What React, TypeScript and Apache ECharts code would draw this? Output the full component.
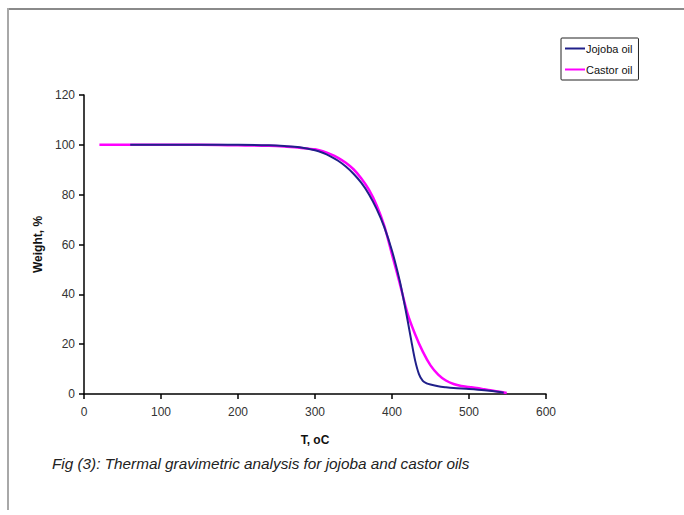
import React, { useEffect, useRef } from "react";
import * as echarts from "echarts";

const jojobaT = [60, 100, 150, 200, 240, 260, 280, 300, 310, 320, 330, 340, 350, 360, 370, 380, 390, 400, 410, 415, 420, 425, 430, 435, 440, 445, 450, 460, 470, 480, 500, 520, 540, 545];
const jojobaW = [100, 100, 100, 100, 99.8, 99.5, 99, 97.8, 96.8, 95.4, 93.6, 91.3, 88.4, 84.8, 80.2, 74.3, 67, 57.5, 45.5, 38, 30, 21.5, 13.5, 8, 5.3, 4.3, 3.8, 3.1, 2.7, 2.4, 2, 1.5, 0.8, 0.5];

const castorT = [20, 60, 100, 150, 200, 240, 260, 280, 300, 310, 320, 330, 340, 350, 360, 370, 380, 390, 400, 410, 420, 430, 440, 450, 460, 470, 480, 490, 500, 510, 520, 530, 540, 549];
const castorW = [100, 100, 100, 100, 99.8, 99.6, 99.3, 98.8, 98.2, 97.4, 96.3, 94.8, 92.8, 90.2, 86.6, 82, 75.8, 67.5, 56, 44.5, 32.5, 24, 17, 11.5, 7.8, 5.4, 4, 3.2, 2.8, 2.4, 1.9, 1.4, 0.9, 0.4];

const xTicks = [0, 100, 200, 300, 400, 500, 600];
const yTicks = [0, 20, 40, 60, 80, 100, 120];

const seriesNames = ["Jojoba oil", "Castor oil"];
const caption = "Fig (3): Thermal gravimetric analysis for jojoba and castor oils";

export default function App() {
  const ref = useRef<HTMLDivElement>(null);
  useEffect(() => {
    if (!ref.current) return;
    const chart = echarts.init(ref.current, null, { renderer: "svg" });
    const font = "'Liberation Sans', Arial, sans-serif";
    chart.setOption({
      animation: false,
      backgroundColor: "#ffffff",
      textStyle: { fontFamily: font },
      grid: { left: 84, right: 138, top: 95, bottom: 121, containLabel: false },
      legend: {
        orient: "vertical",
        left: 561,
        top: 38,
        data: [
          { name: seriesNames[0], icon: "rect" },
          { name: seriesNames[1], icon: "rect" },
        ],
        itemWidth: 20,
        itemHeight: 2,
        itemGap: 10,
        padding: [5, 6, 5, 4],
        borderColor: "#222",
        borderWidth: 1,
        borderRadius: 1,
        textStyle: { fontSize: 11, color: "#111", fontFamily: font, padding: [0, 0, 0, -4] },
      },
      xAxis: {
        type: "value",
        min: 0,
        max: 600,
        interval: 100,
        name: "T, oC",
        nameLocation: "middle",
        nameGap: 40,
        nameTextStyle: { fontWeight: "bold", fontSize: 12, color: "#111", fontFamily: font },
        axisLine: { lineStyle: { color: "#000", width: 1.5 } },
        axisTick: { inside: false, length: 5, lineStyle: { color: "#000", width: 1.5 } },
        axisLabel: { fontSize: 12, color: "#333", margin: 12, fontFamily: font, formatter: (v: number) => (xTicks.includes(v) ? String(v) : "") },
        splitLine: { show: false },
      },
      yAxis: {
        type: "value",
        min: 0,
        max: 120,
        interval: 20,
        name: "Weight, %",
        nameLocation: "middle",
        nameGap: 40,
        nameRotate: 90,
        nameTextStyle: { fontWeight: "bold", fontSize: 12, color: "#111", fontFamily: font },
        axisLine: { show: true, lineStyle: { color: "#000", width: 1.5 } },
        axisTick: { show: true, inside: false, length: 5, lineStyle: { color: "#000", width: 1.5 } },
        axisLabel: { fontSize: 12, color: "#333", margin: 9, fontFamily: font, formatter: (v: number) => (yTicks.includes(v) ? String(v) : "") },
        splitLine: { show: false },
      },
      series: [
        {
          name: seriesNames[1],
          type: "line",
          data: castorT.map((t, i) => [t, castorW[i]]),
          showSymbol: false,
          smooth: 0.3,
          lineStyle: { color: "#ff00ff", width: 2.5 },
          itemStyle: { color: "#ff00ff" },
          z: 2,
        },
        {
          name: seriesNames[0],
          type: "line",
          data: jojobaT.map((t, i) => [t, jojobaW[i]]),
          showSymbol: false,
          smooth: 0.3,
          lineStyle: { color: "#20208a", width: 2 },
          itemStyle: { color: "#20208a" },
          z: 3,
        },
      ],
      graphic: [
        { type: "line", shape: { x1: 8, y1: 9, x2: 684, y2: 9 }, style: { stroke: "#8a8a8a", lineWidth: 2 } },
        { type: "line", shape: { x1: 8, y1: 8, x2: 8, y2: 510 }, style: { stroke: "#a8a8a8", lineWidth: 2 } },
        {
          type: "text",
          left: 52,
          top: 456,
          style: { text: caption, fontSize: 15.3, fontStyle: "italic", fill: "#222", fontFamily: font },
        },
      ],
    });
    return () => chart.dispose();
  }, []);
  return <div ref={ref} style={{ position: "fixed", left: 0, top: 0, width: 684, height: 515 }} />;
}
